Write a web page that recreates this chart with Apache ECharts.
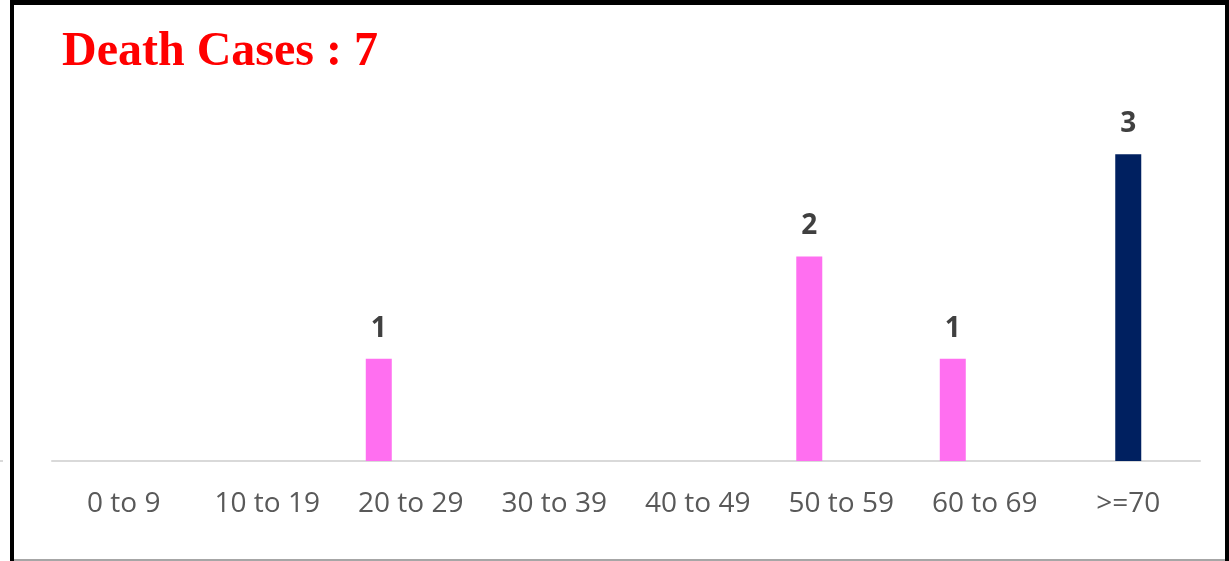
<!DOCTYPE html>
<html>
<head>
<meta charset="utf-8">
<style>
html,body{margin:0;padding:0;background:#fff;}
#chart{width:1229px;height:561px;}
</style>
<script src="https://cdn.jsdelivr.net/npm/echarts@6/dist/echarts.min.js"></script>
</head>
<body>
<div id="chart"></div>
<script>
const titleText = 'Death Cases : 7';
const categories = ['0 to 9', '10 to 19', '20 to 29', '30 to 39', '40 to 49', '50 to 59', '60 to 69', '>=70'];
const pinkValues = [null, null, 1, null, null, 2, 1, null];
const navyValues = [null, null, null, null, null, null, null, 3];
const spareValues = [null, null, null, null, null, null, null, null];

const chart = echarts.init(document.getElementById('chart'), null, {renderer: 'canvas'});
const labelStyle = {
  show: true,
  position: 'top',
  distance: 16,
  color: '#404040',
  fontFamily: 'Open Sans',
  fontWeight: 'bold',
  fontSize: 28
};
chart.setOption({
  animation: false,
  backgroundColor: '#ffffff',
  title: {
    text: titleText,
    left: 57,
    top: 24,
    textStyle: {
      color: '#ff0000',
      fontFamily: 'Liberation Serif',
      fontWeight: 'bold',
      fontSize: 48
    }
  },
  grid: {left: 52, right: 29, top: 52, bottom: 100, containLabel: false},
  xAxis: {
    type: 'category',
    data: categories,
    axisLine: {show: true, lineStyle: {color: '#d9d9d9', width: 2}},
    axisTick: {show: false},
    axisLabel: {
      color: '#595959',
      fontFamily: 'Open Sans',
      fontSize: 28,
      margin: 29,
      interval: 0
    }
  },
  yAxis: {
    type: 'value',
    min: 0,
    max: 4,
    interval: 1,
    show: false,
    splitLine: {show: false}
  },
  series: [
    {
      name: 'Under 70',
      type: 'bar',
      data: pinkValues,
      barWidth: 26,
      barGap: '23%',
      itemStyle: {color: '#ff6ff0'},
      label: labelStyle
    },
    {
      name: '70 and over',
      type: 'bar',
      data: navyValues,
      barWidth: 26,
      barGap: '23%',
      itemStyle: {color: '#002060'},
      label: labelStyle
    },
    {
      name: 'Other',
      type: 'bar',
      data: spareValues,
      barWidth: 26,
      barGap: '23%',
      itemStyle: {color: '#a5a5a5'}
    }
  ],
  graphic: [
    {type: 'rect', shape: {x: 10, y: 0, width: 4, height: 561}, style: {fill: '#000'}, silent: true},
    {type: 'rect', shape: {x: 10, y: 0, width: 1219, height: 5}, style: {fill: '#000'}, silent: true},
    {type: 'rect', shape: {x: 1225, y: 0, width: 4, height: 561}, style: {fill: '#000'}, silent: true},
    {type: 'rect', shape: {x: 14, y: 559, width: 1211, height: 2}, style: {fill: '#a6a6a6'}, silent: true},
    {type: 'rect', shape: {x: 0, y: 460, width: 3, height: 2}, style: {fill: '#d9d9d9'}, silent: true}
  ]
});
</script>
</body>
</html>
